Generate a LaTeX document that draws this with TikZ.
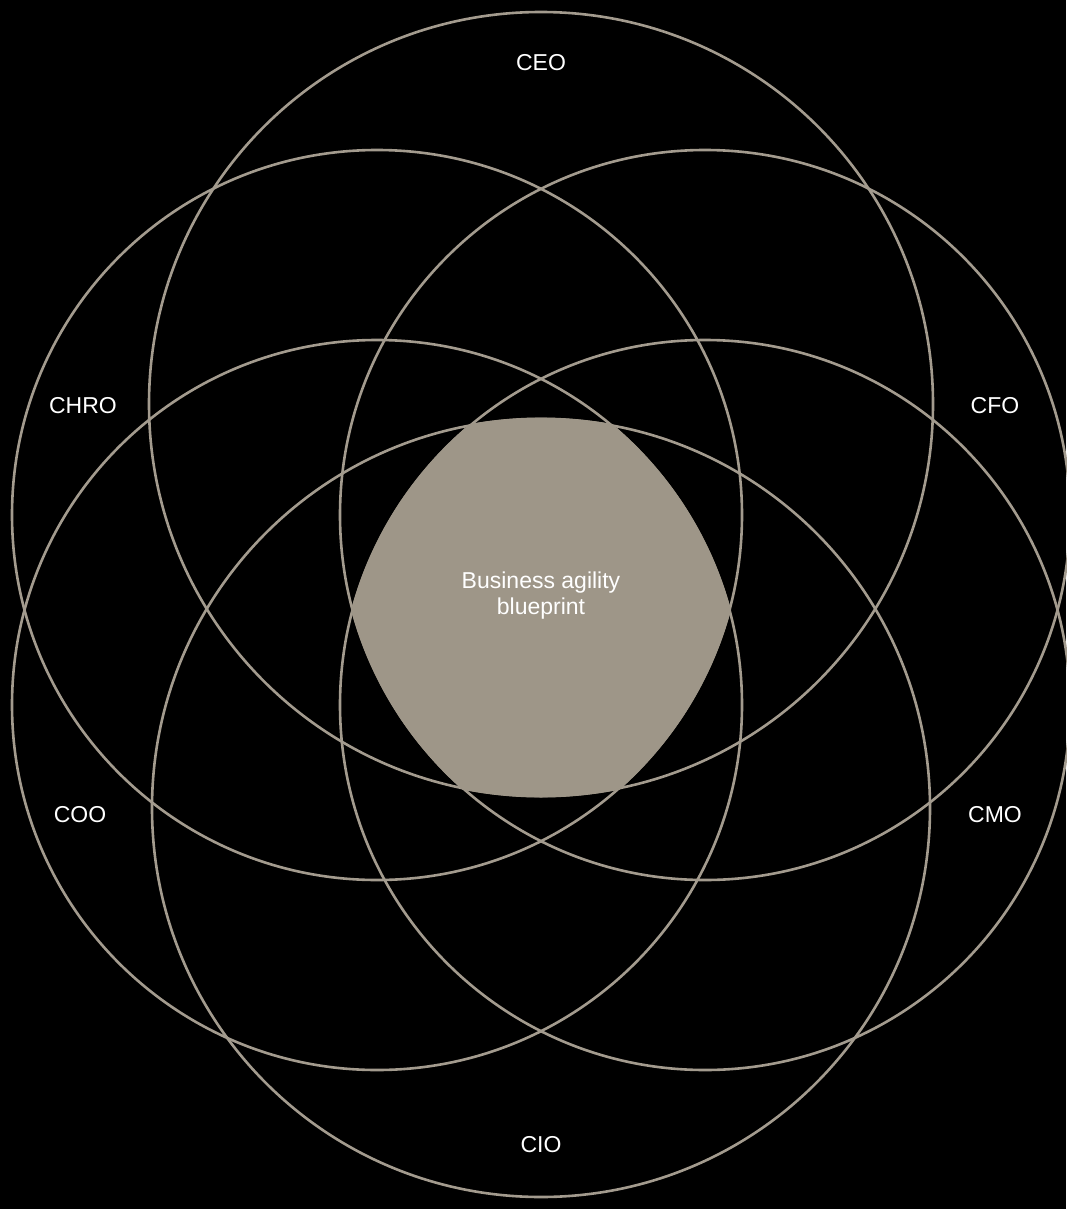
\documentclass[tikz,border=0pt]{standalone}
\usepackage{fontspec}
\setmainfont{Liberation Sans}
\definecolor{ringgray}{RGB}{163,155,142}
\definecolor{corefill}{RGB}{158,150,136}
\tikzset{
  ring/.style={draw=ringgray, line width=2.6pt},
  role/.style={text=white, font=\fontsize{23}{26}\selectfont},
}

\begin{document}
\begin{tikzpicture}[x=1pt,y=-1pt]
  \fill[black] (0,0) rectangle (1066,1209);
  \useasboundingbox (0,0) rectangle (1066,1209);

  % the six rings
  \foreach \cx/\cy/\r in {541/404/392, 541/808/389, 377/515/365, 705/515/365, 377/705/365, 705/705/365}
    \draw[ring] (\cx,\cy) circle[radius=\r pt];

  % shared core of all six rings
  \begin{scope}
    \clip (541,404) circle[radius=393.5pt];
    \clip (541,808) circle[radius=390.5pt];
    \clip (377,515) circle[radius=366.5pt];
    \clip (705,515) circle[radius=366.5pt];
    \clip (377,705) circle[radius=366.5pt];
    \clip (705,705) circle[radius=366.5pt];
    \fill[corefill] (300,300) rectangle (800,900);
  \end{scope}

  \node[role] (ceo) at (541,63) {CEO};
  \node[role] (chro) at (83,406) {CHRO};
  \node[role] (cfo) at (995,406) {CFO};
  \node[role] (coo) at (80,815) {COO};
  \node[role] (cmo) at (995,815) {CMO};
  \node[role] (cio) at (541,1145) {CIO};
  \node[role, align=center] (core) at (541,596) {Business agility\\blueprint};
\end{tikzpicture}
\end{document}
